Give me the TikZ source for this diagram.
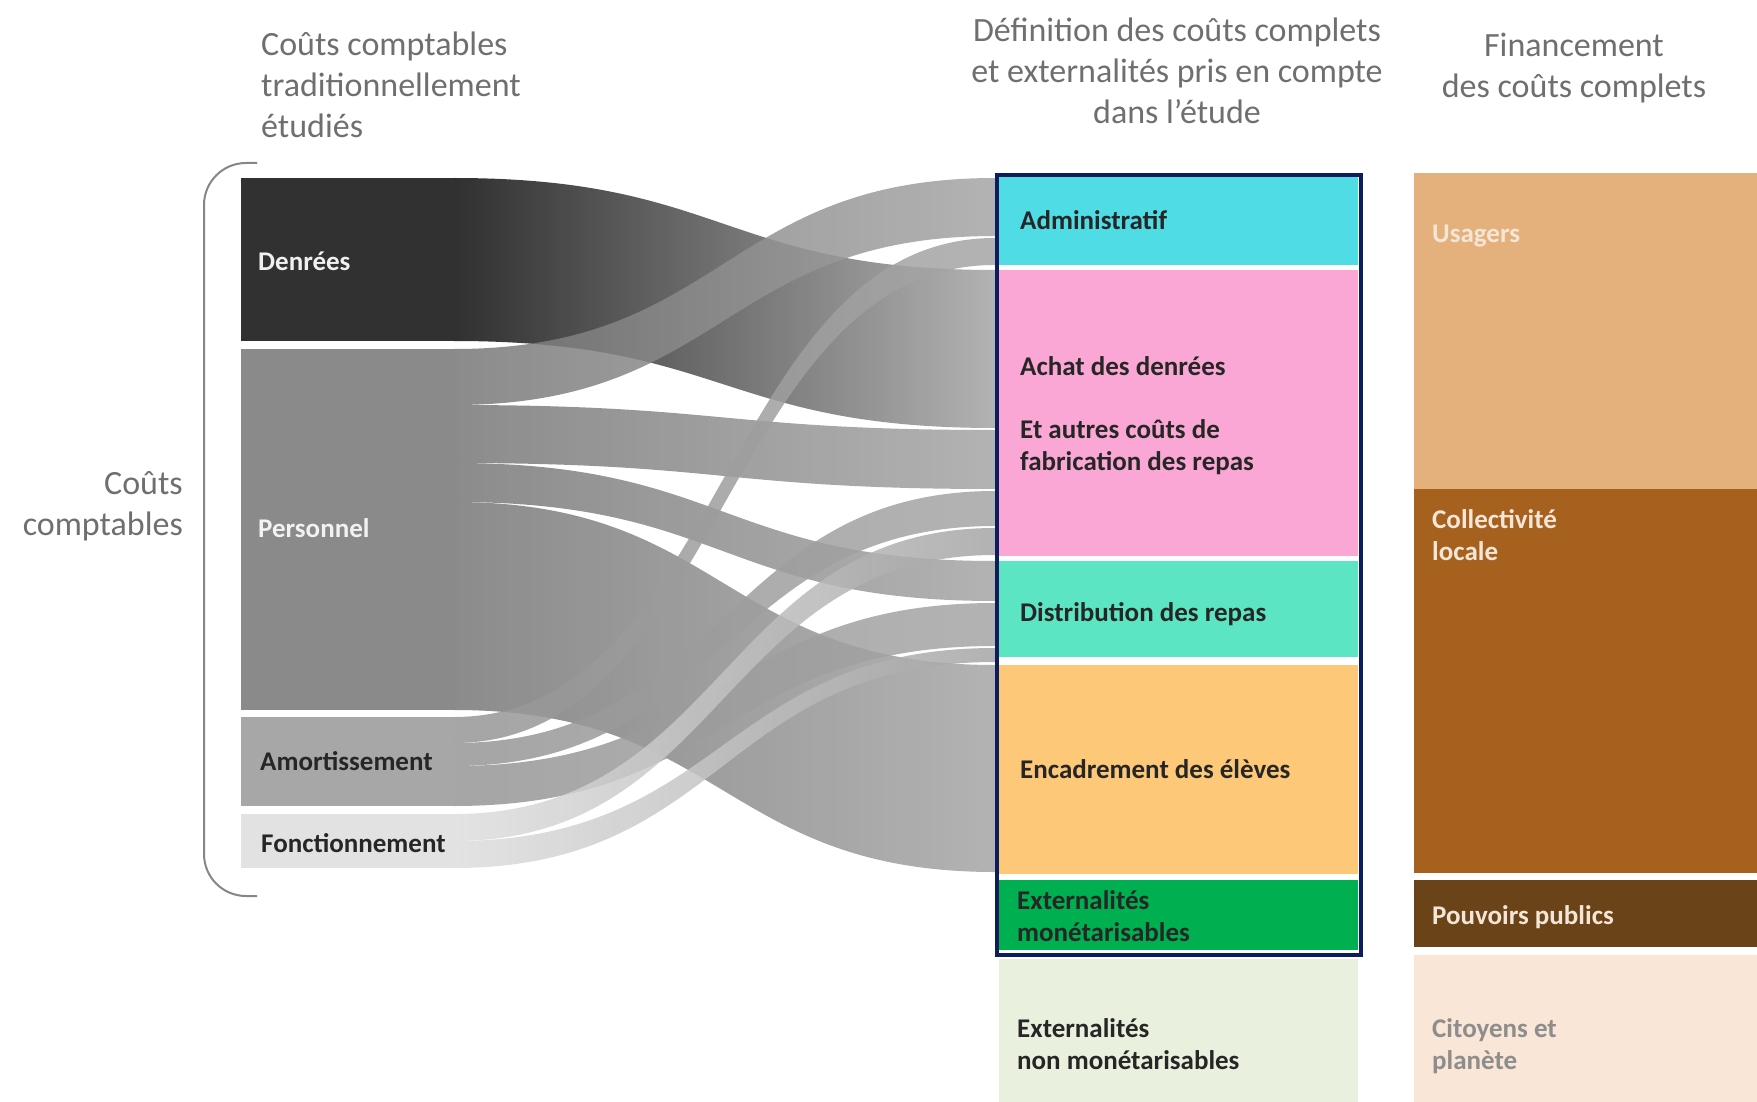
\documentclass[tikz,border=0pt]{standalone}
\usepackage{fontspec}
\setmainfont{Carlito}
\usetikzlibrary{positioning}

\definecolor{denree}{HTML}{313131}
\definecolor{personnel}{HTML}{8A8A8A}
\definecolor{amort}{HTML}{A7A7A7}
\definecolor{fonct}{HTML}{E2E2E2}
\definecolor{denflow}{HTML}{0C0C0C}
\definecolor{perflow}{HTML}{777777}
\definecolor{amoflow}{HTML}{969696}
\definecolor{fonflow}{HTML}{DEDEDE}
\definecolor{flowend}{HTML}{A5A5A5}
\definecolor{admin}{HTML}{50DCE5}
\definecolor{achat}{HTML}{FBA7D5}
\definecolor{distri}{HTML}{5CE5C2}
\definecolor{encad}{HTML}{FEC879}
\definecolor{extmon}{HTML}{00B050}
\definecolor{extnon}{HTML}{E9F0DD}
\definecolor{usagers}{HTML}{E4B17D}
\definecolor{collect}{HTML}{A6611F}
\definecolor{pouvoirs}{HTML}{6B4318}
\definecolor{citoyens}{HTML}{F9E6D6}
\definecolor{frame}{HTML}{0B1D5C}
\definecolor{titlegray}{HTML}{6F6F6F}
\definecolor{lbldark}{HTML}{262626}
\definecolor{lbllight}{HTML}{F4E6D6}
\definecolor{lblgray}{HTML}{8D8D8D}

% one ribbon: left top/bottom, right top/bottom, start colour
\newcommand{\flowband}[5]{%
  \shade[left color=#5, right color=flowend, opacity=0.85]
    (454,#1) .. controls (724,#1) and (724,#3) .. (995,#3)
    -- (995,#4) .. controls (724,#4) and (724,#2) .. (454,#2) -- cycle;}

\begin{document}
\begin{tikzpicture}[x=1pt, y=-1pt,
    head/.style={font=\fontsize{34}{41}\selectfont, text=titlegray, inner sep=0pt},
    lbl/.style={font=\bfseries\fontsize{27}{32}\selectfont, text=lbldark,
                inner sep=0pt, align=left, anchor=base west},
    bar/.style={draw=none, inner sep=0pt, outer sep=0pt, anchor=north west},
    bracket/.style={draw=gray!95, line width=2pt, rounded corners=42pt},
  ]
    \useasboundingbox (0,0) rectangle (1757,1102);

    % column heads (multi-line nodes sit on their last baseline)
    \node[head, align=left, anchor=base west] (ttrad) at (261,138)
        {Coûts comptables\\traditionnellement\\étudiés};
    \node[head, align=center, anchor=base] (tdef) at (1177,124)
        {Définition des coûts complets\\et externalités pris en compte\\dans l’étude};
    \node[head, align=center, anchor=base] (tfin) at (1574,98)
        {Financement\\des coûts complets};
    \node[head, align=right, anchor=base east] (tcc) at (183,535)
        {Coûts\\comptables};

    \draw[bracket] (257,163) -- (204,163) -- (204,896) -- (257,896);

    % accounting costs
    \node[bar, fill=denree, minimum width=213, minimum height=163] (den) at (241,178) {};
    \node[bar, fill=personnel, minimum width=213, minimum height=361] (per) at (241,349) {};
    \node[bar, fill=amort, minimum width=213, minimum height=89] (amo) at (241,717) {};
    \node[bar, fill=fonct, minimum width=213, minimum height=54] (fon) at (241,814) {};

    % ribbons
    \flowband{178}{341}{270}{428}{denflow}
    \flowband{349}{405}{178}{236}{perflow}
    \flowband{405}{463}{430}{489}{perflow}
    \flowband{463}{502}{561}{601}{perflow}
    \flowband{502}{710}{665}{872}{perflow}
    \flowband{717}{743}{238}{265}{amoflow}
    \flowband{743}{766}{491}{526}{amoflow}
    \flowband{766}{806}{603}{646}{amoflow}
    \flowband{814}{841}{528}{555}{fonflow}
    \flowband{841}{868}{648}{662}{fonflow}

    \node[lbl, text=white!94!black] (denl) at (258,271) {Denrées};
    \node[lbl, text=white!95!black] (perl) at (258,537) {Personnel};
    \node[lbl] (amol) at (260,770) {Amortissement};
    \node[lbl] (fonl) at (261,852) {Fonctionnement};

    % full costs
    \node[bar, fill=admin, minimum width=359, minimum height=88] (adm) at (999,177) {};
    \node[bar, fill=achat, minimum width=359, minimum height=286] (ach) at (999,270) {};
    \node[bar, fill=distri, minimum width=359, minimum height=96] (dis) at (999,561) {};
    \node[bar, fill=encad, minimum width=359, minimum height=209] (enc) at (999,665) {};
    \node[bar, fill=extmon, minimum width=359, minimum height=70] (exm) at (999,880) {};
    \node[bar, fill=extnon, minimum width=359, minimum height=143] (exn) at (999,959) {};
    \draw[frame, line width=4pt] (997,175) rectangle (1361,955);

    \node[lbl] (adml) at (1020,230) {Administratif};
    \node[lbl] (achl) at (1020,375) {Achat des denrées};
    \node[lbl] (fabl) at (1020,470) {Et autres coûts de\\fabrication des repas};
    \node[lbl] (disl) at (1020,621) {Distribution des repas};
    \node[lbl] (encl) at (1020,778) {Encadrement des élèves};
    \node[lbl] (exml) at (1017,941) {Externalités\\monétarisables};
    \node[lbl] (exnl) at (1017,1069) {Externalités\\non monétarisables};

    % funding
    \node[bar, fill=usagers, minimum width=343, minimum height=316] (usa) at (1414,173) {};
    \node[bar, fill=collect, minimum width=343, minimum height=384] (col) at (1414,489) {};
    \node[bar, fill=pouvoirs, minimum width=343, minimum height=67] (pou) at (1414,880) {};
    \node[bar, fill=citoyens, minimum width=343, minimum height=147] (cit) at (1414,955) {};

    \node[lbl, text=lbllight] (usal) at (1432,243) {Usagers};
    \node[lbl, text=lbllight] (coll) at (1432,560) {Collectivité\\locale};
    \node[lbl, text=lbllight] (poul) at (1432,924) {Pouvoirs publics};
    \node[lbl, text=lblgray] (citl) at (1432,1069) {Citoyens et\\planète};
\end{tikzpicture}
\end{document}
